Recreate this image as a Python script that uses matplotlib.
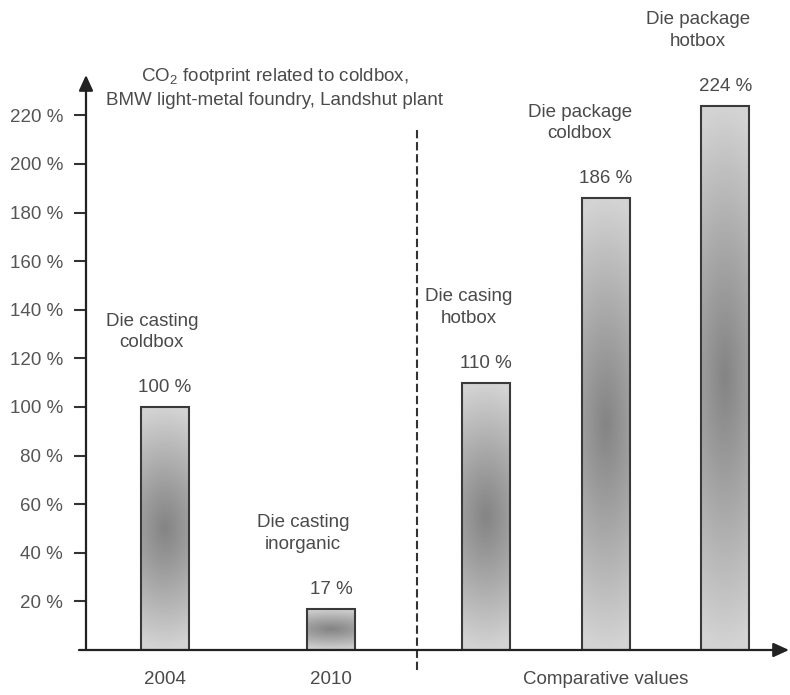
import numpy as np
import matplotlib
matplotlib.use("Agg")
import matplotlib.pyplot as plt

plt.rcParams['font.family'] = ['Liberation Sans', 'DejaVu Sans']
plt.rcParams['mathtext.fontset'] = 'custom'
plt.rcParams['mathtext.rm'] = 'Liberation Sans'

# data
values = [100, 17, 110, 186, 224]
value_labels = ["100 %", "17 %", "110 %", "186 %", "224 %"]
bar_names = ["Die casting\ncoldbox", "Die casting\ninorganic", "Die casing\nhotbox",
             "Die package\ncoldbox", "Die package\nhotbox"]
group_labels = ["2004", "2010", "Comparative values"]
y_ticks = [20, 40, 60, 80, 100, 120, 140, 160, 180, 200, 220]

# layout
pos = [0.66, 2.05, 3.35, 4.35, 5.35]
group_pos = [pos[0], pos[1], pos[3]]
name_dx = [-13, -28, -18, -26, -27]   # px shift of the name labels
divider_x = 2.77
txt = '#4a4a4a'

def px(v):
    return v * 72 / 100

fig = plt.figure(figsize=(7.9, 6.95), dpi=100)
ax = fig.add_axes([86 / 790, 45 / 695, 703 / 790, 575 / 695])
ax.set_xlim(0, 5.883)
ax.set_ylim(0, 236.6)
for s in ax.spines.values():
    s.set_visible(False)

# gradient used inside every bar
gx, gy = np.meshgrid(np.linspace(-1, 1, 60), np.linspace(-1, 1, 200))
t = np.clip(np.sqrt((0.35 * gx) ** 2 + gy ** 2), 0, 1)
grad = 0.52 + (0.83 - 0.52) * t ** 1.1

bars = ax.bar(pos, values, width=0.4, facecolor='none', edgecolor='#3a3a3a',
              linewidth=1.5, zorder=3)
for b in bars:
    x0, y0 = b.get_x(), b.get_y()
    im = ax.imshow(grad, cmap='gray', vmin=0, vmax=1, aspect='auto',
                   extent=(x0, x0 + b.get_width(), y0, y0 + b.get_height()),
                   interpolation='bilinear', zorder=2)
    im.set_clip_path(b)
ax.set_xlim(0, 5.883)
ax.set_ylim(0, 236.6)

for p, v, lab, name, dx in zip(pos, values, value_labels, bar_names, name_dx):
    ax.annotate(lab, (p, v), xytext=(0, px(19)), textcoords='offset points',
                ha='center', va='center', fontsize=13.5, color=txt)
    ax.annotate(name, (p, v), xytext=(px(dx), px(75)), textcoords='offset points',
                ha='center', va='center', fontsize=13.5, color=txt,
                linespacing=1.35)

# divider between measured and comparative values
ax.plot([divider_x, divider_x], [214, -9.5], color='#333333', lw=1.5,
        linestyle=(0, (4, 1.8)), clip_on=False, zorder=1)

# axes with arrow heads
arrow = dict(arrowstyle='-|>,head_length=0.94,head_width=0.43', mutation_scale=10,
             color='#222222', lw=1.6, shrinkA=0, shrinkB=0)
ax.annotate('', xy=(0, 1), xytext=(0, 0), xycoords='axes fraction', arrowprops=arrow)
ax.annotate('', xy=(1, 0), xytext=(-0.01, 0), xycoords='axes fraction', arrowprops=arrow)

ax.set_yticks(y_ticks)
ax.set_yticklabels([f"{v} %" for v in y_ticks])
ax.tick_params(axis='y', direction='out', length=px(12), width=1.5, color='#333333',
               pad=8, labelsize=13.5, labelcolor='#555555')
ax.set_xticks(group_pos)
ax.set_xticklabels(group_labels)
ax.tick_params(axis='x', length=0, pad=15, labelsize=13.5, labelcolor=txt)

fig.text(274.5 / 790, 1 - 87.5 / 695,
         "CO$_\\mathregular{2}$ footprint related to coldbox,\nBMW light-metal foundry, Landshut plant",
         ha='center', va='center', fontsize=13.5, color=txt, linespacing=1.35)

fig.savefig("out.png", dpi=100)
